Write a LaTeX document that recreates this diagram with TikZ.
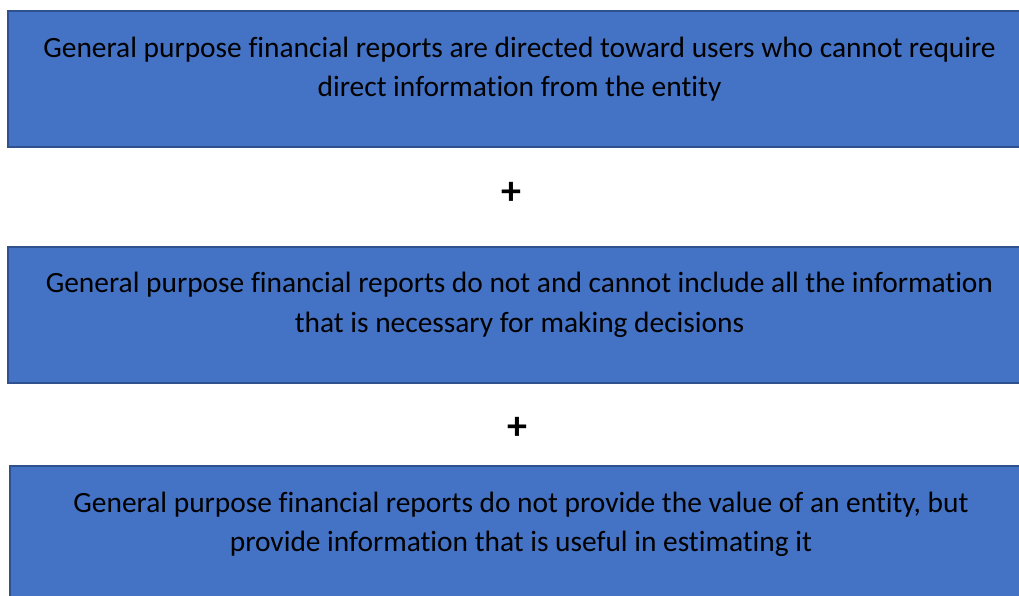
\documentclass[tikz,border=0pt]{standalone}
\usepackage{fontspec}
\setmainfont{Carlito}[Ligatures=NoCommon]
\usetikzlibrary{positioning}

\definecolor{panelfill}{HTML}{4472C4}
\definecolor{paneledge}{HTML}{2F528F}

\tikzset{
  panel/.style={draw=paneledge, line width=2pt, fill=panelfill,
    minimum width=1023pt, minimum height=136pt, inner sep=0pt},
  paneltext/.style={align=center, inner sep=0pt,
    font=\fontsize{29.4}{39.5}\selectfont},
  plussign/.style={font=\fontsize{40}{40}\selectfont\bfseries, inner sep=0pt}
}

\begin{document}
\begin{tikzpicture}[x=1pt, y=-1pt]
  % page size of the reference
  \useasboundingbox (0,0) rectangle (1019,595);
  \clip (0,0) rectangle (1019,595);

  % three panels
  \node[panel] (box1) at (519.5,79) {};
  \node[panel] (box2) at (519.5,314.5) {};
  \node[panel] (box3) at (521,534) {};

  % texts at the top of each panel
  \node[paneltext, below=26.5pt of box1.north] (txt1)
    {General purpose financial reports are directed toward users who cannot require\\direct information from the entity};
  \node[paneltext, below=26.5pt of box2.north] (txt2)
    {General purpose financial reports do not and cannot include all the information\\that is necessary for making decisions};
  \node[paneltext, below=26.5pt of box3.north] (txt3)
    {General purpose financial reports do not provide the value of an entity, but\\provide information that is useful in estimating it};

  % plus signs between panels
  \node[plussign] (plus1) at (511,193) {+};
  \node[plussign] (plus2) at (517,428) {+};
\end{tikzpicture}
\end{document}
